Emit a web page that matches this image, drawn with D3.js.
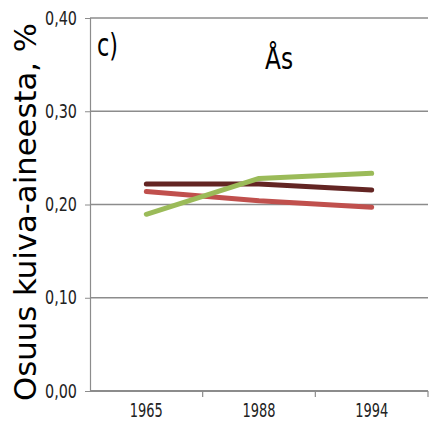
<!DOCTYPE html>
<html>
<head>
<meta charset="utf-8">
<script src="https://cdn.jsdelivr.net/npm/d3@7"></script>
<style>
  body { margin: 0; background: #fff; }
  .tick text { font-family: "DejaVu Sans Condensed", "Liberation Sans Narrow", sans-serif; }
</style>
</head>
<body>
<div id="chart"></div>
<script>
var years = ["1965", "1988", "1994"];
var darkSeries = [0.222, 0.222, 0.2155];
var redSeries = [0.214, 0.204, 0.197];
var greenSeries = [0.1895, 0.228, 0.2335];
var yTicks = [0, 0.1, 0.2, 0.3, 0.4];
var seriesColors = ["#632523", "#c0504d", "#9bbb59"];

var w = 429, h = 436;
var plotLeft = 90, plotRight = 428, plotTop = 18, plotBottom = 391;

var svg = d3.select("#chart").append("svg")
  .attr("width", w).attr("height", h);

var xScale = d3.scaleBand().domain(years).range([plotLeft, plotRight]);
var yScale = d3.scaleLinear().domain([0, 0.4]).range([plotBottom, plotTop]);

var fmt = function(d) { return d3.format(".2f")(d).replace(".", ","); };

// gridlines
svg.append("g").selectAll("line")
  .data(yTicks.filter(function(d) { return d > 0; }))
  .enter().append("line")
  .attr("x1", plotLeft).attr("x2", plotRight)
  .attr("y1", function(d) { return yScale(d); })
  .attr("y2", function(d) { return yScale(d); })
  .attr("stroke", "#8c8c8c").attr("stroke-width", 1.5);

var yAxis = svg.append("g")
  .attr("transform", "translate(" + plotLeft + ",0)")
  .call(d3.axisLeft(yScale).tickValues(yTicks).tickFormat(fmt).tickSize(5).tickPadding(8));
yAxis.select(".domain").attr("stroke", "#8c8c8c").attr("stroke-width", 1.2);
yAxis.selectAll(".tick line").attr("stroke", "#8c8c8c");
yAxis.selectAll(".tick text").attr("font-size", 19).attr("fill", "#222")
  .attr("textLength", 32).attr("lengthAdjust", "spacingAndGlyphs");

var xAxis = svg.append("g")
  .attr("transform", "translate(0," + plotBottom + ")")
  .call(d3.axisBottom(xScale).tickSize(0).tickPadding(13));
xAxis.select(".domain").remove();
xAxis.selectAll(".tick text").attr("font-size", 19).attr("fill", "#222")
  .attr("textLength", 33).attr("lengthAdjust", "spacingAndGlyphs");
svg.append("line")
  .attr("x1", plotLeft).attr("x2", plotRight)
  .attr("y1", plotBottom).attr("y2", plotBottom)
  .attr("stroke", "#8c8c8c").attr("stroke-width", 2);
// category boundary ticks
var bounds = years.slice(1).map(function(d) { return xScale(d); }).concat([plotRight]);
svg.append("g").selectAll("line")
  .data(bounds)
  .enter().append("line")
  .attr("x1", function(d) { return d; })
  .attr("x2", function(d) { return d; })
  .attr("y1", plotBottom).attr("y2", plotBottom + 6)
  .attr("stroke", "#8c8c8c").attr("stroke-width", 1.2);

var line = d3.line()
  .x(function(d, i) { return xScale(years[i]) + xScale.bandwidth() / 2; })
  .y(function(d) { return yScale(d); });

[darkSeries, redSeries, greenSeries].forEach(function(s, i) {
  svg.append("path")
    .attr("d", line(s))
    .attr("fill", "none")
    .attr("stroke", seriesColors[i])
    .attr("stroke-width", 5)
    .attr("stroke-linecap", "round")
    .attr("stroke-linejoin", "round");
});

svg.append("text")
  .attr("x", 97).attr("y", 56)
  .attr("font-family", "DejaVu Sans Condensed, sans-serif")
  .attr("font-size", 32)
  .attr("textLength", 21).attr("lengthAdjust", "spacingAndGlyphs")
  .text("c)");

svg.append("text")
  .attr("x", 265).attr("y", 69)
  .attr("font-family", "DejaVu Sans Condensed, sans-serif")
  .attr("font-size", 31)
  .attr("textLength", 28).attr("lengthAdjust", "spacingAndGlyphs")
  .text("Ås");

svg.append("text")
  .attr("transform", "translate(36,212) rotate(-90)")
  .attr("text-anchor", "middle")
  .attr("font-family", "DejaVu Sans, sans-serif")
  .attr("font-size", 30)
  .attr("textLength", 378)
  .attr("lengthAdjust", "spacingAndGlyphs")
  .text("Osuus kuiva-aineesta, %");
</script>
</body>
</html>
